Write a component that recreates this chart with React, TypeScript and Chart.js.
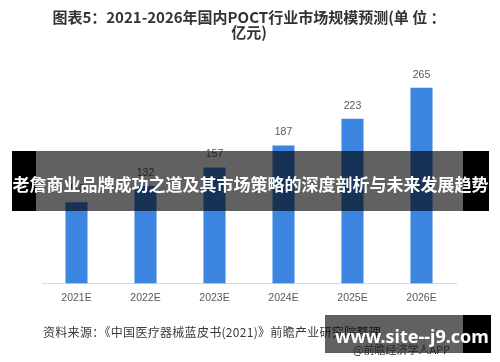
import React, { useEffect, useRef } from "react";
import { Chart, registerables } from "chart.js";

Chart.register(...registerables);

const categories = ["2021E", "2022E", "2023E", "2024E", "2025E", "2026E"];
const marketSize = [110, 132, 157, 187, 223, 265];
const titleLines = ["图表5：2021-2026年国内POCT行业市场规模预测(单 位 ：", "亿元)"];
const sourceText = "资料来源：《中国医疗器械蓝皮书(2021)》前瞻产业研究院整理";
const bannerText = "老詹商业品牌成功之道及其市场策略的深度剖析与未来发展趋势";
const siteText = "www.site--j9.com";
const appText = "@前瞻经济学人APP";

const valueLabels = {
  id: "valueLabels",
  afterDatasetsDraw(chart: any) {
    const ctx = chart.ctx;
    const meta = chart.getDatasetMeta(0);
    ctx.save();
    ctx.font = "10.5px 'Liberation Sans', Arial, sans-serif";
    ctx.fillStyle = "#595959";
    ctx.textAlign = "center";
    ctx.textBaseline = "middle";
    meta.data.forEach((bar: any, i: number) => {
      ctx.fillText(String(marketSize[i]), bar.x, bar.y - 13);
    });
    ctx.restore();
  },
};

export default function App() {
  const ref = useRef<HTMLCanvasElement>(null);
  useEffect(() => {
    if (!ref.current) return;
    const chart = new Chart(ref.current, {
      type: "bar",
      data: {
        labels: categories,
        datasets: [
          {
            data: marketSize,
            backgroundColor: "#3c85e0",
            borderWidth: 0,
            barPercentage: 0.32,
            categoryPercentage: 1,
          },
        ],
      },
      options: {
        animation: false,
        responsive: false,
        maintainAspectRatio: false,
        layout: { padding: { left: 42, right: 44, top: 0, bottom: 50 } },
        plugins: {
          legend: { display: false },
          tooltip: { enabled: false },
          title: {
            display: true,
            text: titleLines,
            color: "#333333",
            font: { family: "'Noto Sans CJK SC', sans-serif", size: 15, weight: "bold", lineHeight: 1.0 },
            padding: { top: 10, bottom: 22 },
          },
        },
        scales: {
          x: {
            grid: { display: false, drawTicks: false },
            border: { display: true, color: "#d9d9d9", width: 1 },
            ticks: {
              color: "#595959",
              font: { family: "'Liberation Sans', Arial, sans-serif", size: 10.5 },
              padding: 8,
            },
          },
          y: {
            display: false,
            min: 0,
            max: 300,
          },
        },
      },
      plugins: [valueLabels],
    });
    return () => chart.destroy();
  }, []);

  return (
    <div style={{ position: "fixed", left: 0, top: 0, width: 500, height: 362, background: "#ffffff", overflow: "hidden" }}>
      <canvas ref={ref} width={500} height={362} style={{ position: "absolute", left: 0, top: 0, width: 500, height: 362 }} />
      <div
        style={{
          position: "absolute",
          left: 43,
          top: 324,
          fontFamily: "'Noto Sans CJK SC', sans-serif",
          fontSize: 12,
          lineHeight: "16px",
          letterSpacing: 0.3,
          color: "#3a3a3a",
          whiteSpace: "nowrap",
        }}
      >
        {sourceText}
      </div>
      {/* banner */}
      <div style={{ position: "absolute", left: 12, top: 151, width: 24, height: 60, background: "#000" }} />
      <div style={{ position: "absolute", left: 36, top: 151, width: 427, height: 60, background: "rgba(0,0,0,0.62)" }} />
      <div style={{ position: "absolute", left: 463, top: 151, width: 26, height: 60, background: "#000" }} />
      <div
        style={{
          position: "absolute",
          left: 0,
          top: 151,
          width: 501,
          height: 60,
          lineHeight: "66px",
          textAlign: "center",
          color: "#ffffff",
          fontFamily: "'Noto Sans CJK SC', sans-serif",
          fontWeight: "bold",
          fontSize: 17,
          whiteSpace: "nowrap",
        }}
      >
        {bannerText}
      </div>
      {/* site box */}
      <div style={{ position: "absolute", left: 325, top: 315, width: 138, height: 38, background: "rgba(0,0,0,0.62)" }} />
      <div style={{ position: "absolute", left: 463, top: 315, width: 28, height: 38, background: "#000" }} />
      <div
        style={{
          position: "absolute",
          left: 353,
          top: 342,
          fontFamily: "'Noto Sans CJK SC', sans-serif",
          fontSize: 11,
          lineHeight: "14px",
          color: "#262626",
          whiteSpace: "nowrap",
        }}
      >
        {appText}
      </div>
      <div
        style={{
          position: "absolute",
          left: 335,
          top: 323,
          fontFamily: "'Noto Sans', sans-serif",
          fontWeight: "bold",
          fontSize: 18,
          lineHeight: "26px",
          color: "#ffffff",
          whiteSpace: "nowrap",
        }}
      >
        {siteText}
      </div>
    </div>
  );
}
